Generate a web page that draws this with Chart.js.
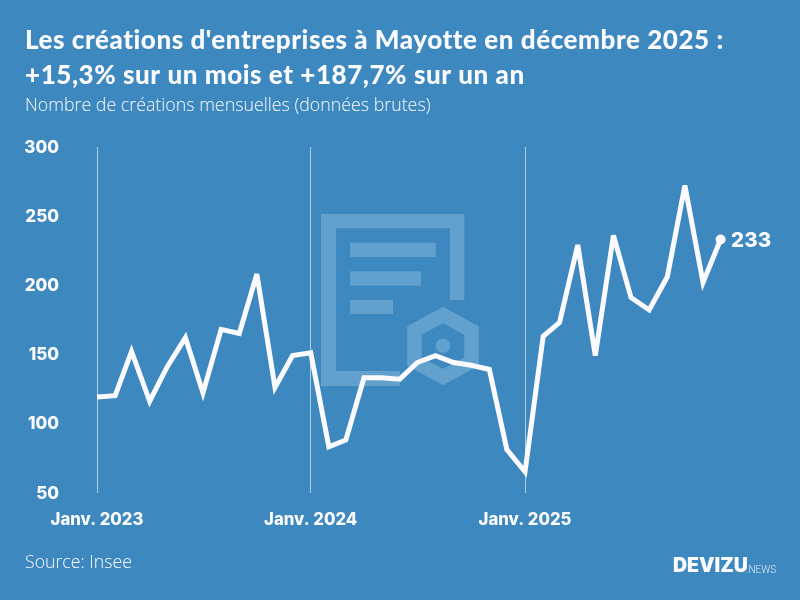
<!DOCTYPE html>
<html lang="fr"><head><meta charset="utf-8">
<style>html,body{margin:0;padding:0;background:#3d88bf}#w{width:800px;height:600px;position:relative}</style>
<script src="https://cdn.jsdelivr.net/npm/chart.js@4"></script></head>
<body><div id="w"><canvas id="c" width="800" height="600"></canvas></div>
<script>
const titleLines = ["Les créations d'entreprises à Mayotte en décembre 2025 :", "+15,3% sur un mois et +187,7% sur un an"];
const subtitleText = "Nombre de créations mensuelles (données brutes)";
const sourceText = "Source: Insee";
const months = ["Janv. 2023","Févr. 2023","Mars 2023","Avr. 2023","Mai 2023","Juin 2023","Juil. 2023","Août 2023","Sept. 2023","Oct. 2023","Nov. 2023","Déc. 2023",
"Janv. 2024","Févr. 2024","Mars 2024","Avr. 2024","Mai 2024","Juin 2024","Juil. 2024","Août 2024","Sept. 2024","Oct. 2024","Nov. 2024","Déc. 2024",
"Janv. 2025","Févr. 2025","Mars 2025","Avr. 2025","Mai 2025","Juin 2025","Juil. 2025","Août 2025","Sept. 2025","Oct. 2025","Nov. 2025","Déc. 2025"];
const creations = [119,120,152,116,141,162,122,168,165,208,126,149,151,83,88,133,133,132,144,149,144,142,139,81,65,163,173,229,149,236,191,182,206,272,202,233];
const yTicks = [50,100,150,200,250,300];
// calendar position of each month: days since the first month
const monthDays = months.map((_, i) => (Date.UTC(2023, i, 1) - Date.UTC(2023, 0, 1)) / 864e5);
const points = creations.map((v, i) => ({x: monthDays[i], y: v}));
const labelledMonths = [0, 12, 24];

const WHITE = '#fafaff', BG = '#3d88bf', ICON = '#62a0cd';

const backdrop = { id:'backdrop',
  beforeDraw(ch){ const c=ch.ctx;
    const t=ch.titleBlock;
    if(t && !t._spaced){ const d=t.draw; t._spaced=true;
      t.draw=function(){ const k=this.ctx; k.letterSpacing='0.55px'; d.apply(this,arguments); k.letterSpacing='0px'; }; }
    c.save(); c.fillStyle=BG; c.fillRect(0,0,800,600);
    // decorative watermark icon
    c.fillStyle=ICON;
    c.beginPath();
    c.moveTo(321,214);c.lineTo(464.3,214);c.lineTo(464.3,300);c.lineTo(450,300);c.lineTo(450,228.3);c.lineTo(336,228.3);c.lineTo(336,371);c.lineTo(400,371);c.lineTo(400,386);c.lineTo(321,386);c.closePath();
    c.fill();
    c.fillRect(350,242.7,85.7,14.3);c.fillRect(350,271.3,71,14.4);c.fillRect(350,300,43,14);
    c.strokeStyle=ICON;c.lineWidth=14.5;c.lineJoin='miter';
    c.beginPath();
    c.moveTo(443,315);c.lineTo(471.5,330.5);c.lineTo(471.5,361.5);c.lineTo(443,377);c.lineTo(414.5,361.5);c.lineTo(414.5,330.5);c.closePath();c.stroke();
    c.beginPath();c.arc(443,345.7,7.3,0,Math.PI*2);c.fill();
    c.restore(); },
  beforeDatasetsDraw(ch){ ch.ctx.save(); ch.ctx.miterLimit=4; },
  afterDatasetsDraw(ch){ ch.ctx.restore(); },
  afterDraw(ch){ const c=ch.ctx; c.save();
    const n=creations.length-1, x=ch.scales.x.getPixelForValue(monthDays[n]), y=ch.scales.y.getPixelForValue(creations[n]);
    c.fillStyle=WHITE;c.textBaseline='middle';c.textAlign='left';
    c.font='800 20.5px Inter';c.fillText(String(creations[n]),x+10.5,y+1.5);
    c.font='300 17.7px "Open Sans"';c.fillText(sourceText,25,563);
    c.font='900 19.5px Inter';c.fillText('DEVIZU',673,566);
    c.font='300 10px Roboto';c.globalAlpha=.85;c.fillText('.NEWS',746,570);
    c.restore(); }
};

new Chart(document.getElementById('c'),{
  type:'line',
  data:{datasets:[{data:points,borderColor:WHITE,backgroundColor:WHITE,borderWidth:5,tension:0,
    borderJoinStyle:'miter',borderCapStyle:'butt',clip:false,
    pointRadius:ctx=>ctx.dataIndex===creations.length-1?5:0,pointHoverRadius:0,pointBorderWidth:0}]},
  options:{responsive:false,animation:false,
    layout:{padding:{left:25,right:25,top:0,bottom:0}},
    plugins:{legend:{display:false},tooltip:{enabled:false},
      title:{display:true,text:titleLines,align:'start',color:WHITE,font:{family:'Lato',size:26,weight:'900',lineHeight:1.346},padding:{top:23.5,bottom:0}},
      subtitle:{display:true,text:subtitleText,align:'start',color:WHITE,font:{family:'"Open Sans"',size:17.8,weight:'300',lineHeight:1.2},padding:{top:2,bottom:30}}},
    scales:{
      x:{type:'linear',min:monthDays[0],max:monthDays[monthDays.length-1],
        afterFit(s){s.height=107.5;},
        afterBuildTicks(s){s.ticks=labelledMonths.map(i=>({value:monthDays[i]}));},
        border:{display:false},
        grid:{drawTicks:false,lineWidth:1,color:'rgba(255,255,255,.6)'},
        ticks:{autoSkip:false,maxRotation:0,minRotation:0,padding:17,color:WHITE,font:{family:'Inter',size:16.7,weight:'800'},
          callback(v){return months[monthDays.indexOf(v)];}}},
      y:{min:50,max:300,position:'left',
        afterFit(s){s.width=72;},
        afterBuildTicks(s){s.ticks=yTicks.map(v=>({value:v}));},
        border:{display:false},grid:{display:false,drawTicks:false},
        ticks:{padding:38,labelOffset:1,color:WHITE,font:{family:'Inter',size:17,weight:'800'}}},
      gutter:{position:'right',display:true,afterFit(s){s.width=54.4;},
        border:{display:false},grid:{display:false},ticks:{display:false}}
    }},
  plugins:[backdrop]
});
</script></body></html>
